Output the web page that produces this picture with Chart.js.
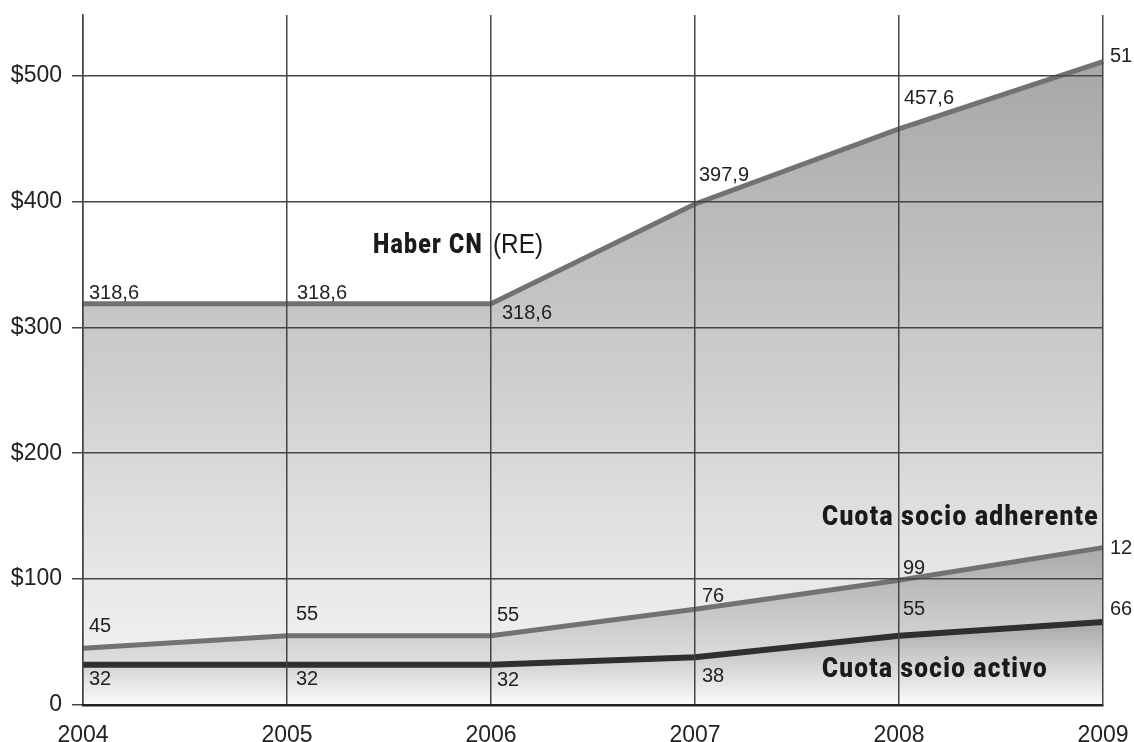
<!DOCTYPE html>
<html>
<head>
<meta charset="utf-8">
<script src="https://cdn.jsdelivr.net/npm/chart.js@4"></script>
<style>
  html, body { margin: 0; padding: 0; background: #ffffff; }
  #wrap { width: 1134px; height: 742px; position: relative; }
</style>
</head>
<body>
<div id="wrap"><canvas id="c" width="1134" height="742"></canvas></div>
<script>
// ---- data ----
const years = ['2004', '2005', '2006', '2007', '2008', '2009'];
const haberCN = [318.6, 318.6, 318.6, 397.9, 457.6, 511];
const cuotaAdherente = [45, 55, 55, 76, 99, 125];
const cuotaActivo = [32, 32, 32, 38, 55, 66];
const haberLabels = ['318,6', '318,6', '318,6', '397,9', '457,6', '51'];
const adherenteLabels = ['45', '55', '55', '76', '99', '12'];
const activoLabels = ['32', '32', '32', '38', '55', '66'];
const yTickValues = [0, 100, 200, 300, 400, 500];
const yTickLabels = ['0', '$100', '$200', '$300', '$400', '$500'];
const seriesNames = ['Haber CN', '(RE)', 'Cuota socio adherente', 'Cuota socio activo'];

// ---- label placement (offsets in px from each point) ----
const haberOffsets = [[6, -10], [10, -10], [11, 10], [4, -29], [5, -30], [7, -5]];
const adherenteOffsets = [[6, -22], [9, -21], [6, -20], [7, -13], [4, -12], [7, 1]];
const activoOffsets = [[6, 15], [9, 15], [6, 16], [7, 19], [4, -26], [7, -12]];

function vGradient(stops) {
  return function (c) {
    const chart = c.chart;
    const area = chart.chartArea;
    if (!area) return '#cccccc';
    const y = chart.scales.y;
    const y0 = y.getPixelForValue(stops[0][0]);
    const y1 = y.getPixelForValue(stops[stops.length - 1][0]);
    const g = chart.ctx.createLinearGradient(0, y0, 0, y1);
    stops.forEach(function (s) {
      const t = (y.getPixelForValue(s[0]) - y0) / (y1 - y0);
      g.addColorStop(Math.min(1, Math.max(0, t)), s[1]);
    });
    return g;
  };
}

const pointLabelPlugin = {
  id: 'pointLabels',
  afterDraw(chart) {
    const ctx = chart.ctx;
    ctx.save();
    ctx.font = '20px "Liberation Sans", Arial, sans-serif';
    ctx.fillStyle = '#222222';
    ctx.textAlign = 'left';
    ctx.textBaseline = 'middle';
    chart.data.datasets.forEach(function (ds, i) {
      const meta = chart.getDatasetMeta(i);
      meta.data.forEach(function (pt, j) {
        const off = ds.labelOffsets[j];
        ctx.fillText(ds.pointLabels[j], pt.x + off[0], pt.y + off[1]);
      });
    });
    ctx.restore();
  }
};

function fitText(ctx, text, x, yBase, targetW, font, spacing) {
  ctx.font = font;
  ctx.letterSpacing = spacing || '0px';
  const w = ctx.measureText(text).width;
  const sx = targetW / w;
  ctx.save();
  ctx.translate(x, yBase);
  ctx.scale(sx, 1);
  ctx.fillText(text, 0, 0);
  ctx.restore();
  ctx.letterSpacing = '0px';
}

const seriesTitlePlugin = {
  id: 'seriesTitles',
  afterDraw(chart) {
    const ctx = chart.ctx;
    ctx.save();
    ctx.fillStyle = '#1a1a1a';
    ctx.textAlign = 'left';
    ctx.textBaseline = 'alphabetic';
    const bold = '900 28px Roboto, "Liberation Sans", sans-serif';
    const reg = '27px "Liberation Sans", sans-serif';
    fitText(ctx, seriesNames[0], 373, 253, 110, bold, '1.5px');
    fitText(ctx, seriesNames[1], 493, 253, 50, reg, '0px');
    fitText(ctx, seriesNames[2], 822, 525, 277, bold, '1.5px');
    fitText(ctx, seriesNames[3], 822, 677, 226, bold, '1.5px');
    ctx.restore();
  }
};

const gridColor = '#454545';
function noPad(scale) {
  scale.paddingTop = 0;
  scale.paddingBottom = 0;
  scale.paddingLeft = 0;
  scale.paddingRight = 0;
}

new Chart(document.getElementById('c'), {
  type: 'line',
  data: {
    labels: years,
    datasets: [
      {
        label: seriesNames[3],
        data: cuotaActivo,
        pointLabels: activoLabels,
        labelOffsets: activoOffsets,
        borderColor: '#2f2f2f',
        borderWidth: 6,
        fill: 'origin',
        backgroundColor: vGradient([[66, '#a6a7a9'], [40, '#c9cacb'], [0, '#fbfbfb']]),
        pointRadius: 0,
        tension: 0
      },
      {
        label: seriesNames[2],
        data: cuotaAdherente,
        pointLabels: adherenteLabels,
        labelOffsets: adherenteOffsets,
        borderColor: '#727272',
        borderWidth: 5,
        fill: 'origin',
        backgroundColor: vGradient([[125, '#a9aaac'], [30, '#e0e0e0']]),
        pointRadius: 0,
        tension: 0
      },
      {
        label: seriesNames[0],
        data: haberCN,
        pointLabels: haberLabels,
        labelOffsets: haberOffsets,
        borderColor: '#727272',
        borderWidth: 5,
        fill: 'origin',
        backgroundColor: vGradient([[520, '#a4a5a7'], [40, '#f1f1f1']]),
        pointRadius: 0,
        tension: 0
      }
    ]
  },
  options: {
    responsive: false,
    animation: false,
    events: [],
    layout: { padding: { top: 15, right: 31, left: 0, bottom: 0 } },
    plugins: {
      legend: { display: false },
      tooltip: { enabled: false },
      title: { display: false }
    },
    scales: {
      x: {
        type: 'category',
        offset: false,
        grid: { color: gridColor, lineWidth: 1.5, drawTicks: false, z: 1 },
        border: { color: '#222222', width: 2.5, z: 2 },
        ticks: {
          z: 1,
          color: '#222222',
          padding: 17,
          maxRotation: 0,
          autoSkip: false,
          font: { family: '"Liberation Sans", Arial, sans-serif', size: 23 }
        },
        afterFit(scale) { scale.height = 37; noPad(scale); }
      },
      y: {
        type: 'linear',
        min: 0,
        max: 548,
        afterBuildTicks(scale) {
          scale.ticks = yTickValues.map(function (v) { return { value: v }; });
        },
        grid: { color: gridColor, lineWidth: 1.5, drawTicks: true, tickLength: 11, z: 1 },
        border: { color: gridColor, width: 1.5, z: 1 },
        ticks: {
          z: 1,
          color: '#222222',
          padding: 10,
          font: { family: '"Liberation Sans", Arial, sans-serif', size: 23 },
          callback: function (v) {
            const i = yTickValues.indexOf(v);
            return i >= 0 ? yTickLabels[i] : '';
          }
        },
        afterFit(scale) { scale.width = 83; noPad(scale); }
      }
    }
  },
  plugins: [pointLabelPlugin, seriesTitlePlugin]
});
</script>
</body>
</html>
